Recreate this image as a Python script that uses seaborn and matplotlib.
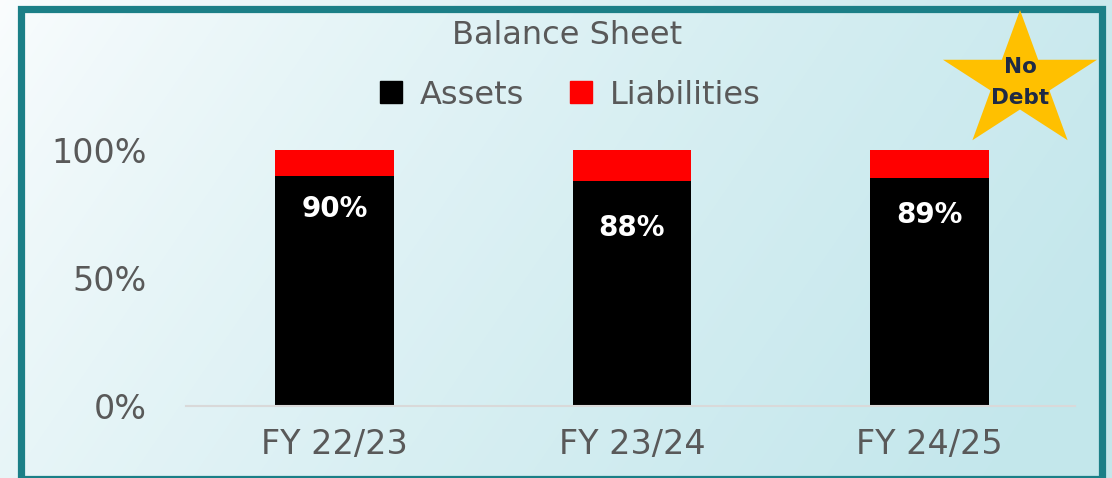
import numpy as np
import pandas as pd
import matplotlib.pyplot as plt
import seaborn as sns
from matplotlib.patches import Polygon, Rectangle
from matplotlib.lines import Line2D

# data
years = ['FY 22/23', 'FY 23/24', 'FY 24/25']
assets = [90, 88, 89]
liabilities = [10, 12, 11]
y_ticks = [0, 50, 100]
y_tick_labels = ['0%', '50%', '100%']

df = pd.DataFrame({'year': years, 'assets': assets,
                   'total': [a + l for a, l in zip(assets, liabilities)]})

sns.set_theme(style='white')
plt.rcParams['font.family'] = ['DejaVu Sans']

W, H = 1112, 478
fig = plt.figure(figsize=(W / 100, H / 100), dpi=100)

# background gradient: white on the left, light cyan to the right
bg = fig.add_axes([0, 0, 1, 1], zorder=-10)
X, Y = np.meshgrid(np.linspace(0, 1, W), np.linspace(0, 1, H))
t = np.clip(0.85 * X + 0.25 * Y, 0, 1) ** 0.75
c0 = np.array([251, 253, 254]) / 255
c1 = np.array([196, 231, 236]) / 255
img = c0 + (c1 - c0) * t[..., None]
bg.imshow(img, aspect='auto', extent=[0, 1, 0, 1], origin='upper')
bg.axis('off')

# teal frame
fig.patches.append(Rectangle((20.5 / W, -0.5 / H), 1081 / W, (478.5 - 9) / H,
                             fill=False, edgecolor='#1b7f87', linewidth=5.2,
                             transform=fig.transFigure, zorder=5))

ax = fig.add_axes([186 / W, 72 / H, 889 / W, 256 / H])
ax.set_facecolor('none')
sns.barplot(data=df, x='year', y='total', color='#ff0000', width=0.4,
            saturation=1, linewidth=0, ax=ax)
sns.barplot(data=df, x='year', y='assets', color='black', width=0.4,
            saturation=1, linewidth=0, ax=ax)

# labels sit inside the black segment, a little below its top
for i, (v, drop) in enumerate(zip(assets, [13, 18.5, 14.5])):
    ax.text(i, v - drop, f'{v}%', color='white', fontsize=20, fontweight='bold',
            ha='center', va='center')

ax.set_xlim(-0.5, 2.49)
ax.set_ylim(0, 100)
ax.set_yticks(y_ticks)
ax.set_yticklabels(y_tick_labels)
ax.set_xlabel('')
ax.set_ylabel('')
for s in ['top', 'right', 'left']:
    ax.spines[s].set_visible(False)
ax.spines['bottom'].set_color('#d9d9d9')
ax.spines['bottom'].set_linewidth(1.5)
ax.tick_params(axis='y', length=0, pad=28, labelsize=24, labelcolor='#595959')
ax.tick_params(axis='x', length=0, pad=16, labelsize=24, labelcolor='#595959')

fig.text(567 / W, 1 - 35 / H, 'Balance Sheet', ha='center', va='center',
         fontsize=23, color='#595959')

handles = [Line2D([], [], marker='s', linestyle='', color='black', markersize=16),
           Line2D([], [], marker='s', linestyle='', color='#ff0000', markersize=16)]
fig.legend(handles, ['Assets', 'Liabilities'], loc='center',
           bbox_to_anchor=(568 / W, 1 - 95 / H), ncol=2, frameon=False,
           fontsize=23, labelcolor='#595959', handletextpad=0.4,
           columnspacing=1.3, handlelength=1)

# "No Debt" star badge
cx, cy, rx, ry = 1020, 82, 81, 72
ang = np.pi / 2 + np.arange(10) * np.pi / 5
rad = np.where(np.arange(10) % 2 == 0, 1.0, 0.382)
px = cx + rx * rad * np.cos(ang)
py = cy - ry * rad * np.sin(ang)
fig.patches.append(Polygon(np.column_stack([px / W, 1 - py / H]), closed=True,
                           facecolor='#ffc000', edgecolor='none',
                           transform=fig.transFigure, zorder=6))
fig.text(cx / W, 1 - 67 / H, 'No', ha='center', va='center', fontsize=15.5,
         fontweight='semibold', color='#1f2a44', zorder=7)
fig.text(cx / W, 1 - 98 / H, 'Debt', ha='center', va='center', fontsize=15.5,
         fontweight='semibold', color='#1f2a44', zorder=7)

fig.savefig('out.png', dpi=100)
